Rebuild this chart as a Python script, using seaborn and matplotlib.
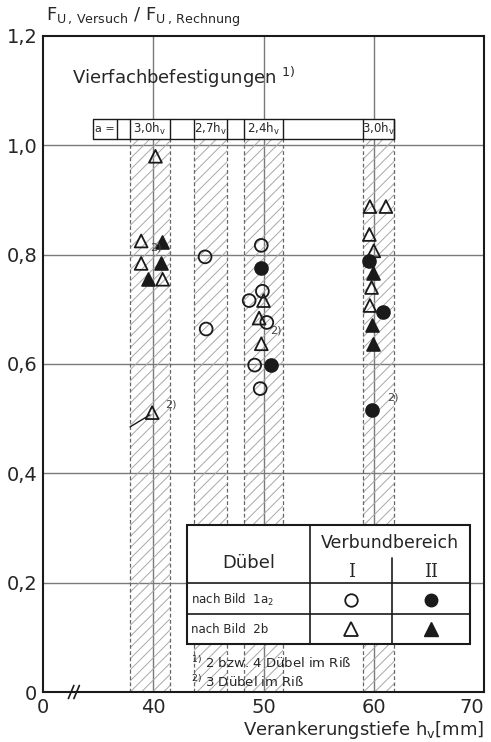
import numpy as np
import pandas as pd
import matplotlib.pyplot as plt
from matplotlib.patches import Rectangle
import seaborn as sns

# Verankerungstiefe h_v [mm] / F_u,Versuch / F_u,Rechnung
circ_open_x = [44.7, 44.8, 49.8, 49.9, 48.7, 50.3, 49.2, 49.7]
circ_open_y = [0.796, 0.664, 0.817, 0.733, 0.716, 0.676, 0.598, 0.555]
circ_full_x = [49.8, 50.7, 59.6, 60.8, 59.8]
circ_full_y = [0.776, 0.598, 0.788, 0.695, 0.516]
tri_open_x = [40.2, 38.9, 38.9, 40.85, 39.9, 50.0, 49.6, 49.8, 59.65, 61.1, 59.6, 60.0, 59.8, 59.65]
tri_open_y = [0.98, 0.825, 0.784, 0.755, 0.511, 0.716, 0.684, 0.637, 0.888, 0.888, 0.837, 0.807, 0.74, 0.707]
tri_full_x = [40.8, 40.7, 39.5, 59.95, 59.8, 59.9]
tri_full_y = [0.824, 0.784, 0.755, 0.767, 0.672, 0.637]

# Achsabstand-Bereiche
band_lo = [37.9, 43.7, 48.2, 59.0]
band_hi = [41.5, 46.7, 51.8, 61.8]
band_text = ["3,0", "2,7", "2,4", "3,0"]

yticks = [0, 0.2, 0.4, 0.6, 0.8, 1.0, 1.2]
ytick_labels = ["0", "0,2", "0,4", "0,6", "0,8", "1,0", "1,2"]
xticks = [30, 40, 50, 60, 70]
xtick_labels = ["0", "40", "50", "60", "70"]

# Fußnote 2) an einzelnen Punkten
note2_x = [39.7, 50.6, 41.1, 61.2]
note2_y = [0.807, 0.655, 0.52, 0.534]

sns.set_style("ticks")
plt.rcParams['font.family'] = ['DejaVu Sans']
plt.rcParams['hatch.linewidth'] = 0.7

ink = '#1a1a1a'
grid = '#7a7a7a'

fig = plt.figure(figsize=(4.91, 7.42), dpi=100)
ax = fig.add_axes([43 / 491, 50 / 742, 441 / 491, 656 / 742])
ax.set_xlim(30, 70)
ax.set_ylim(0, 1.2)

for y in [0.2, 0.4, 0.6, 0.8, 1.0]:
    ax.axhline(y, color=grid, lw=1, zorder=1)
for x in [40, 50, 60]:
    ax.axvline(x, color=grid, lw=1, zorder=1)

# schraffierte Bänder
for lo, hi in zip(band_lo, band_hi):
    ax.add_patch(Rectangle((lo, 0), hi - lo, 1.011, facecolor='none',
                           edgecolor='#a8a8a8', hatch='///', lw=0, zorder=1))
    ax.vlines([lo, hi], 0, 1.011, colors='#666666', linestyles=(0, (3, 2)), lw=0.9, zorder=2)

# Kopfzeile a =
hy0, hy1 = 1.011, 1.049
ax.add_patch(Rectangle((34.5, hy0), 61.8 - 34.5, hy1 - hy0, facecolor='white',
                       edgecolor=ink, lw=1, zorder=3))
for xv in [36.7] + band_lo + band_hi:
    ax.plot([xv, xv], [hy0, hy1], color=ink, lw=1, zorder=4)
ax.text(35.6, (hy0 + hy1) / 2, "a =", ha='center', va='center', fontsize=8, zorder=5)
for lo, hi, t in zip(band_lo, band_hi, band_text):
    ax.text((lo + hi) / 2, (hy0 + hy1) / 2, t + r"h$_\mathregular{v}$", ha='center', va='center',
            fontsize=8.5, zorder=5)

# Messpunkte
kw = dict(s=85, linewidth=1.3, zorder=6, ax=ax, legend=False)
sns.scatterplot(x=circ_open_x, y=circ_open_y, marker='o', color=ink, facecolors='none', edgecolor=ink, **kw)
sns.scatterplot(x=circ_full_x, y=circ_full_y, marker='o', color=ink, edgecolor=ink, **kw)
sns.scatterplot(x=tri_open_x, y=tri_open_y, marker='^', color=ink, facecolors='none', edgecolor=ink, **kw)
sns.scatterplot(x=tri_full_x, y=tri_full_y, marker='^', color=ink, edgecolor=ink, **kw)

for x, y in zip(note2_x, note2_y):
    ax.text(x, y, "2)", fontsize=8, color='#444444', zorder=7)
ax.plot([37.9, 39.7], [0.485, 0.507], color=ink, lw=1, zorder=6)

# Legende als Tabelle
tx0, tx1, txm, txs = 43.06, 68.7, 54.2, 61.7
ty = [0.305, 0.199, 0.143, 0.088]
ax.add_patch(Rectangle((tx0, ty[3]), tx1 - tx0, ty[0] - ty[3], facecolor='white',
                       edgecolor=ink, lw=1.5, zorder=8))
for yv in ty[1:3]:
    ax.plot([tx0, tx1], [yv, yv], color=ink, lw=1.2, zorder=9)
ax.plot([txm, txm], [ty[0], ty[3]], color=ink, lw=1.2, zorder=9)
ax.plot([txs, txs], [0.245, ty[3]], color=ink, lw=1.2, zorder=9)
ax.text((tx0 + txm) / 2, 0.236, "Dübel", ha='center', va='center', fontsize=13, zorder=10)
ax.text((txm + tx1) / 2, 0.272, "Verbundbereich", ha='center', va='center', fontsize=12.5, zorder=10)
ax.text((txm + txs) / 2, 0.219, "I", ha='center', va='center', fontsize=13, family='DejaVu Serif', zorder=10)
ax.text((txs + tx1) / 2, 0.219, "II", ha='center', va='center', fontsize=13, family='DejaVu Serif', zorder=10)
ax.text(tx0 + 0.4, 0.168, r"nach Bild  1a$_\mathregular{2}$", ha='left', va='center', fontsize=8.5, zorder=10)
ax.text(tx0 + 0.4, 0.115, "nach Bild  2b", ha='left', va='center', fontsize=8.5, zorder=10)
ax.plot((txm + txs) / 2, 0.168, 'o', ms=9, mfc='white', mec=ink, mew=1.3, zorder=10)
ax.plot((txs + tx1) / 2, 0.168, 'o', ms=9, mfc=ink, mec=ink, zorder=10)
ax.plot((txm + txs) / 2, 0.115, '^', ms=10, mfc='white', mec=ink, mew=1.3, zorder=10)
ax.plot((txs + tx1) / 2, 0.115, '^', ms=10, mfc=ink, mec=ink, zorder=10)

ax.text(tx0 + 0.4, 0.053, r"$^\mathregular{1)}$ 2 bzw. 4 Dübel im Riß", ha='left', va='center',
        fontsize=9.5, zorder=10)
ax.text(tx0 + 0.4, 0.018, r"$^\mathregular{2)}$ 3 Dübel im Riß", ha='left', va='center',
        fontsize=9.5, zorder=10)

# Titel und Achsbeschriftung
ax.text(32.6, 1.124, r"Vierfachbefestigungen $^\mathregular{1)}$", ha='left', va='center', fontsize=13)
ax.text(30.3, 1.212, r"F$_\mathregular{U\,,\,Versuch}$ / F$_\mathregular{U\,,\,Rechnung}$",
        ha='left', va='bottom', fontsize=13)
ax.set_xlabel(r"Verankerungstiefe h$_\mathregular{v}$[mm]", loc='right', fontsize=13, labelpad=2)

ax.set_xticks(xticks)
ax.set_xticklabels(xtick_labels, fontsize=14)
ax.get_xticklabels()[-1].set_horizontalalignment('right')
ax.set_yticks(yticks)
ax.set_yticklabels(ytick_labels, fontsize=14)
ax.tick_params(length=0, pad=4)
for sp in ax.spines.values():
    sp.set_color(ink)
    sp.set_linewidth(1.5)

# Achsenbruch
for dx in [0, 0.5]:
    ax.plot([32.3 + dx, 32.8 + dx], [-0.012, 0.012], color=ink, lw=1.2, clip_on=False, zorder=11)

fig.savefig('out.png', dpi=100, facecolor='white')
